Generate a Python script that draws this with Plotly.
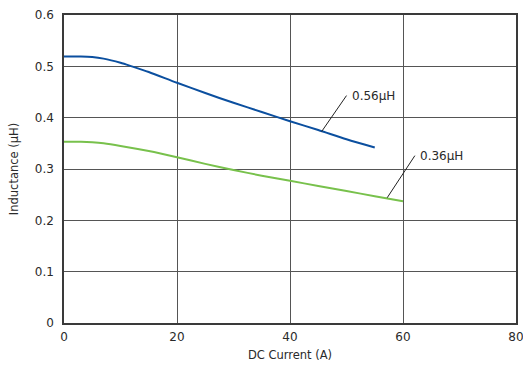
import plotly.graph_objects as go

# Data
current_056 = [0, 3, 5, 7, 10, 12, 15, 20, 25, 30, 35, 40, 45, 50, 55]
induct_056 = [0.519, 0.519, 0.518, 0.515, 0.507, 0.500, 0.489, 0.468, 0.448, 0.429, 0.411, 0.393, 0.376, 0.358, 0.342]

current_036 = [0, 3, 5, 7, 10, 15, 20, 25, 30, 35, 40, 45, 50, 55, 60]
induct_036 = [0.353, 0.353, 0.352, 0.350, 0.345, 0.335, 0.323, 0.310, 0.298, 0.287, 0.277, 0.267, 0.257, 0.247, 0.237]

series_names = ["0.56μH", "0.36μH"]
series_colors = ["#0b4f9f", "#78c14c"]
# leader lines: (point x, point y, text x, text y)
label_points = [(45.6, 0.373, 50.0, 0.443), (57.2, 0.244, 62.1, 0.326)]

x_ticks = [0, 20, 40, 60, 80]
y_ticks = [0, 0.1, 0.2, 0.3, 0.4, 0.5, 0.6]
y_tick_text = ["0", "0.1", "0.2", "0.3", "0.4", "0.5", "0.6"]

FONT = "DejaVu Sans"
TXT = "#2a2a2a"
fig = go.Figure()
for xs, ys, name, col in [(current_056, induct_056, series_names[0], series_colors[0]),
                          (current_036, induct_036, series_names[1], series_colors[1])]:
    fig.add_trace(go.Scatter(x=xs, y=ys, mode="lines", name=name,
                             line=dict(color=col, width=2, shape="spline", smoothing=0.8)))

for (px, py, tx, ty), name in zip(label_points, series_names):
    fig.add_shape(type="line", x0=px, y0=py, x1=tx, y1=ty, xref="x", yref="y",
                  line=dict(color="#222222", width=1))
    fig.add_annotation(x=tx, y=ty, xref="x", yref="y", text=name, showarrow=False,
                       xanchor="left", yanchor="middle", xshift=3,
                       font=dict(family=FONT, size=12, color=TXT))

axis_common = dict(showgrid=True, gridcolor="#555555", gridwidth=1,
                   showline=True, linecolor="#3a3a3a", linewidth=1.5, mirror=True,
                   zeroline=False, ticks="", tickfont=dict(family=FONT, size=12, color=TXT),
                   automargin=False, ticklabeloverflow="allow")

fig.update_xaxes(range=[0, 80], tickvals=x_ticks, ticklabelstandoff=2,
                 title=dict(text="DC Current (A)", standoff=8,
                            font=dict(family=FONT, size=11.5, color=TXT)), **axis_common)
fig.update_yaxes(range=[0, 0.6], tickvals=y_ticks, ticktext=y_tick_text, ticklabelstandoff=6,
                 title=dict(text="Inductance (μH)", standoff=14,
                            font=dict(family=FONT, size=11.5, color=TXT)), **axis_common)

fig.update_layout(width=523, height=367, margin=dict(l=64, r=7, t=15, b=44),
                  plot_bgcolor="white", paper_bgcolor="white", showlegend=False,
                  font=dict(family=FONT))
fig.write_html("out.html", config={"displayModeBar": False},
               post_script="document.body.style.margin='0';")
